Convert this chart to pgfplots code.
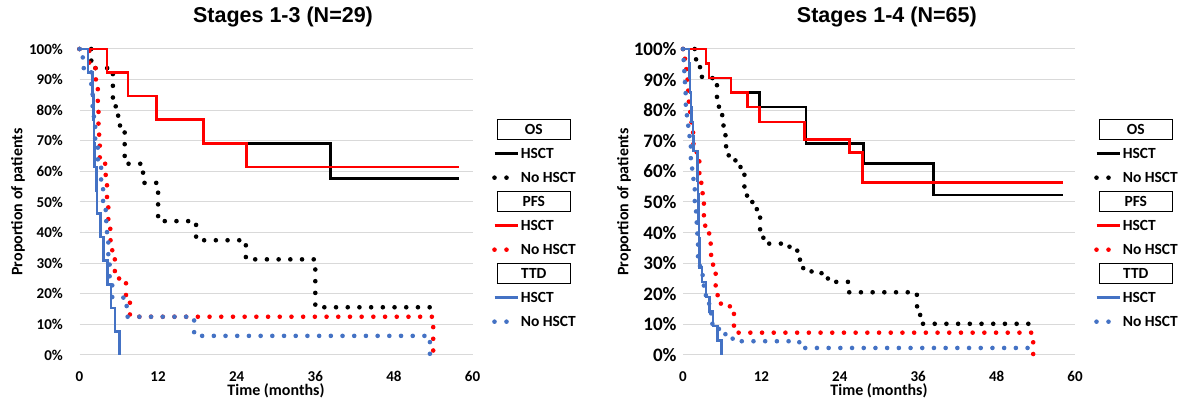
\documentclass[border=0pt]{standalone}
\usepackage{fontspec}
\setmainfont{Carlito}
\newfontfamily\titlefont{Liberation Sans}
\usepackage{pgfplots}
\pgfplotsset{compat=1.18}
\definecolor{kmblue}{HTML}{4472C4}
\definecolor{kmred}{HTML}{FF0000}
\definecolor{gridgray}{HTML}{D9D9D9}
\newcommand{\hdr}[1]{\hspace*{-24pt}{\setlength{\fboxsep}{0pt}\setlength{\fboxrule}{1pt}\fbox{\makebox[72pt]{\rule[-4.5pt]{0pt}{19pt}#1}}}}
\pgfplotsset{
  km/.style={
    scale only axis, anchor=south west,
    xmin=0, xmax=60, ymin=0, ymax=100,
    xtick={0,12,24,36,48,60},
    ytick={0,10,20,30,40,50,60,70,80,90,100},
    yticklabels={0\%,10\%,20\%,30\%,40\%,50\%,60\%,70\%,80\%,90\%,100\%},
    ymajorgrids, major grid style={draw=gridgray, line width=1pt},
    axis line style={draw=none}, tick style={draw=none},
    clip=false,
    /pgf/number format/assume math mode=true,
    tick label style={font=\fontsize{15}{18}\selectfont\bfseries},
    xticklabel style={anchor=center, inner sep=0pt, yshift=-21.7pt},
    yticklabel style={anchor=east, inner sep=0pt},
    xlabel={Time (months)}, ylabel={Proportion of patients},
    label style={font=\fontsize{16}{19}\selectfont\bfseries, inner sep=0pt},
    xlabel style={at={(axis description cs:0.5,-0.1185)}, anchor=center},
    title style={anchor=center, inner sep=0pt, font=\titlefont\fontsize{21.5}{24}\selectfont\bfseries},
    legend cell align=left,
    legend image code/.code={\draw[##1] (0pt,0pt) -- (23pt,0pt);},
    legend style={anchor=north west, draw=none, fill=none, inner sep=0pt,
      row sep=14pt, column sep=0pt,
      font=\fontsize{15.5}{18}\selectfont\bfseries,
      nodes={inner xsep=1pt, inner ysep=0pt, text height=10pt, text depth=0pt}},
  },
  hs/.style={const plot, line width=2.6pt, mark=none, forget plot},
  nohs/.style={const plot, line width=4.6pt, line cap=round, dash pattern=on 0pt off 11.7pt, mark=none, forget plot},
}
\newcommand{\kmlegend}{%
  \addlegendimage{empty legend}\addlegendentry{\hdr{OS}}
  \addlegendimage{black, line width=2.6pt}\addlegendentry{HSCT}
  \addlegendimage{black, line width=4.6pt, line cap=round, dash pattern=on 0pt off 12pt}\addlegendentry{No HSCT}
  \addlegendimage{empty legend}\addlegendentry{\hdr{PFS}}
  \addlegendimage{kmred, line width=2.6pt}\addlegendentry{HSCT}
  \addlegendimage{kmred, line width=4.6pt, line cap=round, dash pattern=on 0pt off 12pt}\addlegendentry{No HSCT}
  \addlegendimage{empty legend}\addlegendentry{\hdr{TTD}}
  \addlegendimage{kmblue, line width=2.6pt}\addlegendentry{HSCT}
  \addlegendimage{kmblue, line width=4.6pt, line cap=round, dash pattern=on 0pt off 12pt}\addlegendentry{No HSCT}
}
\begin{document}
\begin{tikzpicture}
\useasboundingbox (0,0) rectangle (1182pt,406pt);
% ---------------- Left panel ----------------
\begin{axis}[km, at={(79.5pt,51pt)}, width=393pt, height=306pt,
  title={Stages 1-3 (N=29)},
  title style={at={(axis description cs:0.5178,1.085)}},
  ylabel style={at={(axis description cs:-0.1565,0.5)}, anchor=center},
  yticklabel style={xshift=-16.5pt},
  legend style={at={(axis description cs:1.0496,0.7533)}}]
\addplot[nohs, black] coordinates {(0,100)(1.8,93.75)(5.1,81.25)(5.9,75)(6.9,62.5)(9.7,56.25)(12.0,43.75)(17.8,37.5)(25.4,31.25)(36.0,15.6)(53.8,15.6)};
\addplot[nohs, kmred] coordinates {(0,100)(1.5,93.75)(2.5,87.5)(2.8,81.25)(2.9,75)(3.0,68.75)(3.1,62.5)(4.0,56.25)(4.2,50)(4.4,43.75)(4.7,37.5)(5.0,31.25)(5.4,25)(7.1,18.75)(7.7,12.5)(54.0,0)};
\addplot[nohs, kmblue] coordinates {(0,100)(0.5,93.75)(1.8,87.5)(2.0,81.25)(2.2,75)(2.4,68.75)(2.8,62.5)(3.3,56.25)(3.6,50)(4.0,43.75)(4.2,37.5)(4.4,31.25)(4.6,25)(5.0,18.75)(7.2,12.5)(17.5,6.25)(53.5,0)};
\addplot[hs, black] coordinates {(0,100)(4.2,92.3)(7.4,84.6)(11.8,76.9)(18.9,69.2)(38.3,57.7)(58,57.7)};
\addplot[hs, kmred] coordinates {(0,100)(4.2,92.3)(7.4,84.6)(11.8,76.9)(18.9,69.2)(25.5,61.5)(58,61.5)};
\addplot[hs, kmblue] coordinates {(0,100)(1.3,92.3)(2.0,84.6)(2.1,76.9)(2.2,69.2)(2.3,61.5)(2.6,53.8)(2.7,46.2)(3.2,38.5)(3.7,30.8)(4.3,23.1)(4.8,15.4)(5.4,7.7)(6.1,0)};
\kmlegend
\end{axis}
% ---------------- Right panel ----------------
\begin{axis}[km, at={(683pt,51pt)}, width=392pt, height=306pt,
  title={Stages 1-4 (N=65)},
  title style={at={(axis description cs:0.520,1.085)}},
  ylabel style={at={(axis description cs:-0.1505,0.5)}, anchor=center},
  yticklabel style={xshift=-6.3pt, font=\fontsize{19}{22}\selectfont\bfseries},
  legend style={at={(axis description cs:1.0485,0.7533)}}]
\addplot[nohs, black] coordinates {(0,100)(2.0,95.5)(2.6,90.9)(4.5,88.6)(5.2,84.1)(5.5,79.5)(6.0,75)(6.5,68.2)(7.0,63.6)(8.8,59.1)(9.4,54.5)(9.8,50)(11.3,45.5)(11.8,40.9)(12.3,36.4)(16.3,34.1)(17.9,29.5)(18.4,27.3)(21.2,25)(22.5,23.9)(25.3,20.5)(35.8,15.9)(36.3,10.2)(53.5,9.1)(54.0,9.1)};
\addplot[nohs, kmred] coordinates {(0,100)(0.3,95.5)(0.5,90.9)(0.7,86.4)(0.9,81.8)(1.1,77.3)(1.3,72.7)(1.6,68.2)(2.1,63.6)(2.5,59.1)(2.8,54.5)(3.0,50)(3.2,45.5)(3.4,40.9)(4.0,36.4)(4.3,31.8)(4.6,27.3)(5.0,22.7)(5.3,18.2)(5.8,15.9)(7.2,13.6)(7.8,9.1)(8.3,7.3)(53.6,0)};
\addplot[nohs, kmblue] coordinates {(0,100)(0.1,95.5)(0.2,90.9)(0.3,86.4)(0.4,81.8)(0.6,77.3)(0.8,72.7)(1.0,68.2)(1.2,63.6)(1.4,59.1)(1.6,54.5)(1.8,50)(2.0,45.5)(2.1,40.9)(2.2,36.4)(2.3,31.8)(2.6,27.3)(3.0,22.7)(3.5,18.2)(4.0,13.6)(4.5,9.1)(5.5,6.8)(7.6,4.5)(17.8,2.3)(53.2,0)};
\addplot[hs, black] coordinates {(0,100)(3.5,95.2)(4.0,90.5)(7.35,85.7)(11.7,81.0)(18.8,69.2)(27.6,62.6)(38.3,52.3)(58.1,52.3)};
\addplot[hs, kmred] coordinates {(0,100)(3.5,95.2)(4.0,90.5)(7.35,85.7)(9.9,81.0)(11.7,76.2)(18.6,70.5)(25.5,66.2)(27.5,56.3)(58.1,56.3)};
\addplot[hs, kmblue] coordinates {(0,100)(0.9,95.2)(1.0,90.5)(1.1,85.7)(1.2,81)(1.3,76.2)(1.5,71.4)(1.6,66.7)(2.2,61.9)(2.25,57.1)(2.3,52.4)(2.35,47.6)(2.4,42.9)(2.45,38.1)(2.5,33.3)(2.55,28.6)(2.9,23.8)(3.5,19.0)(4.1,14.3)(4.6,9.5)(5.3,4.8)(5.9,0)};
\kmlegend
\end{axis}
\end{tikzpicture}
\end{document}
